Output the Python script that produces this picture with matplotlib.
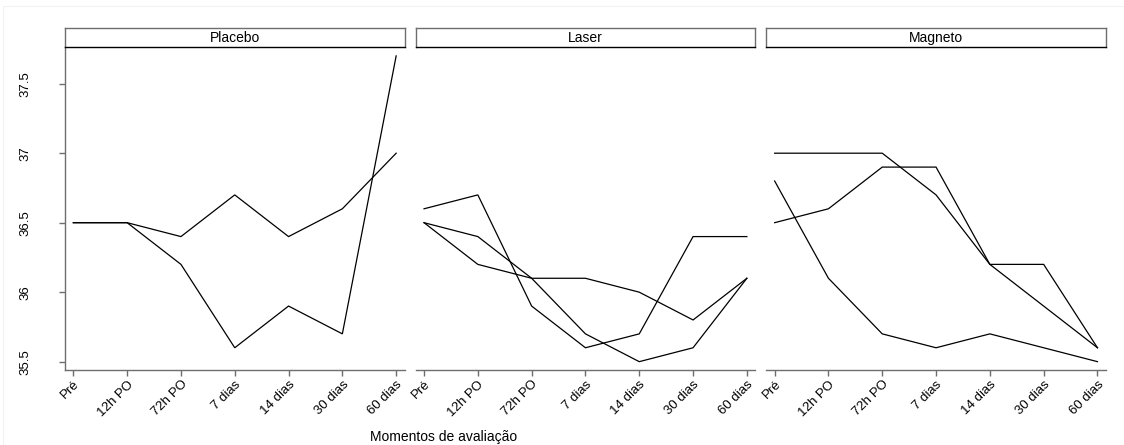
import matplotlib
matplotlib.use("Agg")
import matplotlib.pyplot as plt
from matplotlib.patches import Rectangle

plt.rcParams['font.family'] = ['Liberation Sans', 'DejaVu Sans']

momentos = ["Pré", "12h PO", "72h PO", "7 dias", "14 dias", "30 dias", "60 dias"]
grupos = ["Placebo", "Laser", "Magneto"]

placebo_a = [36.5, 36.5, 36.4, 36.7, 36.4, 36.6, 37.0]
placebo_b = [36.5, 36.5, 36.2, 35.6, 35.9, 35.7, 37.7]

laser_a = [36.6, 36.7, 35.9, 35.6, 35.7, 36.4, 36.4]
laser_b = [36.5, 36.4, 36.1, 35.7, 35.5, 35.6, 36.1]
laser_c = [36.5, 36.2, 36.1, 36.1, 36.0, 35.8, 36.1]

magneto_a = [37.0, 37.0, 37.0, 36.7, 36.2, 35.9, 35.6]
magneto_b = [36.5, 36.6, 36.9, 36.9, 36.2, 36.2, 35.6]
magneto_c = [36.8, 36.1, 35.7, 35.6, 35.7, 35.6, 35.5]

series = {
    "Placebo": [placebo_a, placebo_b],
    "Laser": [laser_a, laser_b, laser_c],
    "Magneto": [magneto_a, magneto_b, magneto_c],
}

yticks = [35.5, 36.0, 36.5, 37.0, 37.5]
ytick_labels = ["35.5", "36", "36.5", "37", "37.5"]

W, H = 1124, 445
fig = plt.figure(figsize=(W / 100, H / 100), dpi=100)

# faint outer border
fig.add_artist(Rectangle((3 / W, 0.0), 1 - 3 / W, 1 - 6 / H, transform=fig.transFigure,
                         fill=False, edgecolor="#f2f2f2", linewidth=0.8))

panel_left = [65, 415.7, 766.3]
panel_w = 339.5
panel_top, panel_bottom = 47.3, 370.0
strip_top = 28.3

axis_gray = "#6e6e6e"
tick_fs = 9.5
x = list(range(len(momentos)))

for i, g in enumerate(grupos):
    l = panel_left[i]
    ax = fig.add_axes([l / W, 1 - panel_bottom / H, panel_w / W, (panel_bottom - panel_top) / H])
    for ys in series[g]:
        ax.plot(x, ys, color="black", linewidth=0.9, solid_joinstyle="miter")
    ax.set_xlim(-0.155, 6.155)
    ax.set_ylim(35.44, 37.762)
    for s in ["top", "right"]:
        ax.spines[s].set_visible(False)
    ax.spines["bottom"].set_color(axis_gray)
    ax.spines["bottom"].set_linewidth(1.0)
    ax.set_xticks(x)
    ax.set_xticklabels(momentos, rotation=45, ha="right", rotation_mode="anchor", fontsize=tick_fs)
    ax.tick_params(axis="x", length=4, width=1.0, color=axis_gray, pad=2)
    if i == 0:
        ax.spines["left"].set_color(axis_gray)
        ax.spines["left"].set_linewidth(1.0)
        ax.set_yticks(yticks)
        ax.set_yticklabels(ytick_labels, rotation=90, va="center", fontsize=tick_fs)
        ax.tick_params(axis="y", length=4, width=1.0, color=axis_gray, pad=20)
    else:
        ax.spines["left"].set_visible(False)
        ax.set_yticks([])

    # strip header
    sax = fig.add_axes([l / W, 1 - panel_top / H, panel_w / W, (panel_top - strip_top) / H])
    sax.set_xticks([])
    sax.set_yticks([])
    for s in ["top", "left", "right"]:
        sax.spines[s].set_color(axis_gray)
        sax.spines[s].set_linewidth(1.0)
    sax.spines["bottom"].set_color("black")
    sax.spines["bottom"].set_linewidth(1.0)
    sax.text(0.5, 0.48, g, ha="center", va="center", fontsize=10, transform=sax.transAxes)

fig.text(444 / W, 1 - 437 / H, "Momentos de avaliação", ha="center", va="center", fontsize=10)

fig.savefig("out.png", dpi=100)
